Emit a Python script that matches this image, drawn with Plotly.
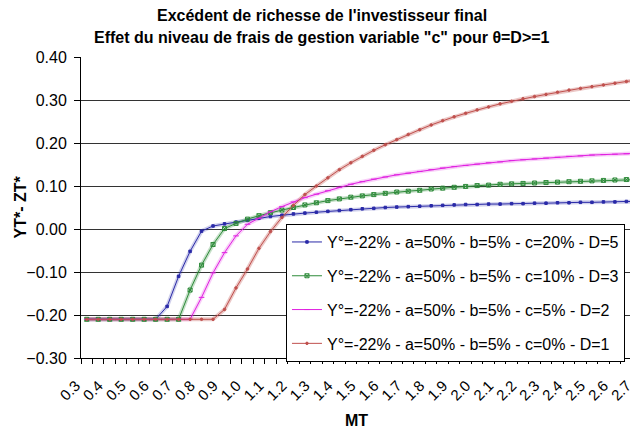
import plotly.graph_objects as go

# MT categories (one point every 0.05)
mt = [0.30, 0.35, 0.40, 0.45, 0.50, 0.55, 0.60, 0.65, 0.70, 0.75,
      0.80, 0.85, 0.90, 0.95, 1.00, 1.05, 1.10, 1.15, 1.20, 1.25,
      1.30, 1.35, 1.40, 1.45, 1.50, 1.55, 1.60, 1.65, 1.70, 1.75,
      1.80, 1.85, 1.90, 1.95, 2.00, 2.05, 2.10, 2.15, 2.20, 2.25,
      2.30, 2.35, 2.40, 2.45, 2.50, 2.55, 2.60, 2.65, 2.70]

tick_vals = [0.3, 0.4, 0.5, 0.6, 0.7, 0.8, 0.9, 1.0, 1.1, 1.2, 1.3, 1.4, 1.5,
             1.6, 1.7, 1.8, 1.9, 2.0, 2.1, 2.2, 2.3, 2.4, 2.5, 2.6, 2.7]
tick_text = ["0.3", "0.4", "0.5", "0.6", "0.7", "0.8", "0.9", "1.0", "1.1", "1.2",
             "1.3", "1.4", "1.5", "1.6", "1.7", "1.8", "1.9", "2.0", "2.1", "2.2",
             "2.3", "2.4", "2.5", "2.6", "2.7"]

# YT* - ZT*
y_c20 = [-0.21, -0.21, -0.21, -0.21, -0.21, -0.21, -0.21, -0.18, -0.11, -0.052,
         -0.005, 0.007, 0.012, 0.016, 0.020, 0.025, 0.029, 0.032, 0.035, 0.037,
         0.039, 0.041, 0.043, 0.045, 0.047, 0.048, 0.050, 0.051, 0.052, 0.053,
         0.054, 0.055, 0.056, 0.057, 0.057, 0.058, 0.058, 0.059, 0.059, 0.060,
         0.060, 0.061, 0.061, 0.062, 0.062, 0.063, 0.063, 0.064, 0.064]
y_c10 = [-0.21, -0.21, -0.21, -0.21, -0.21, -0.21, -0.21, -0.21, -0.21, -0.142,
         -0.084, -0.036, 0.001, 0.013, 0.023, 0.031, 0.038, 0.044, 0.050, 0.056,
         0.061, 0.066, 0.070, 0.074, 0.077, 0.080, 0.083, 0.086, 0.088, 0.090,
         0.093, 0.095, 0.097, 0.099, 0.101, 0.102, 0.104, 0.105, 0.106, 0.107,
         0.108, 0.109, 0.110, 0.111, 0.112, 0.113, 0.114, 0.115, 0.115]
y_c5 = [-0.21, -0.21, -0.21, -0.21, -0.21, -0.21, -0.21, -0.21, -0.21, -0.21,
        -0.159, -0.102, -0.055, -0.016, 0.011, 0.025, 0.040, 0.052, 0.063, 0.073,
        0.081, 0.089, 0.097, 0.104, 0.110, 0.116, 0.121, 0.126, 0.130, 0.134,
        0.138, 0.142, 0.145, 0.148, 0.151, 0.154, 0.156, 0.159, 0.161, 0.163,
        0.165, 0.167, 0.169, 0.170, 0.172, 0.173, 0.174, 0.175, 0.176]
y_c0 = [-0.21, -0.21, -0.21, -0.21, -0.21, -0.21, -0.21, -0.21, -0.21, -0.21,
        -0.21, -0.21, -0.187, -0.137, -0.093, -0.045, -0.006, 0.027, 0.055, 0.080,
        0.100, 0.119, 0.138, 0.154, 0.169, 0.183, 0.196, 0.208, 0.220, 0.231,
        0.242, 0.252, 0.261, 0.269, 0.277, 0.284, 0.291, 0.297, 0.303, 0.308,
        0.313, 0.318, 0.323, 0.327, 0.331, 0.335, 0.339, 0.343, 0.347]

names = ["Y°=-22% - a=50% - b=5% - c=20% - D=5",
         "Y°=-22% - a=50% - b=5% - c=10% - D=3",
         "Y°=-22% - a=50% - b=5% - c=5% - D=2",
         "Y°=-22% - a=50% - b=5% - c=0% - D=1"]

series = [y_c20, y_c10, y_c5, y_c0]
colors = ["#2a2aa8", "#2e8b3a", "#e020e0", "#c0504d"]
halos = ["rgba(42,42,168,0.22)", "rgba(46,139,58,0.28)", "rgba(224,32,224,0.22)", "rgba(192,80,77,0.32)"]
symbols = ["square", "square-x-open", "line-ew-open", "circle"]
msizes = [2.5, 4, 4, 2.5]

FONT = "Liberation Sans, Arial, sans-serif"

fig = go.Figure()

# halo (Excel-like soft shadow of the lines)
for ys, h in zip(series, halos):
    fig.add_trace(go.Scatter(x=mt, y=ys, mode="lines", line=dict(color=h, width=4),
                             showlegend=False, hoverinfo="skip"))

for i, (ys, c, name) in enumerate(zip(series, colors, names)):
    fig.add_trace(go.Scatter(
        x=mt, y=ys, name=name, mode="lines+markers", legendgroup=str(i),
        line=dict(color=c, width=1),
        marker=dict(symbol=symbols[i], size=msizes[i], color=c, line=dict(color=c, width=1)),
    ))

# two-line title
fig.add_annotation(text="<b>Excédent de richesse de l'investisseur final</b>",
                   xref="paper", yref="paper", x=0.433, y=1.138, xanchor="center", yanchor="middle",
                   showarrow=False, font=dict(family=FONT, size=16))
fig.add_annotation(text="<b>Effet du niveau de frais de gestion variable \"c\" pour θ=D>=1</b>",
                   xref="paper", yref="paper", x=0.433, y=1.064, xanchor="center", yanchor="middle",
                   showarrow=False, font=dict(family=FONT, size=16))
# axis titles
fig.add_annotation(text="<b>YT*- ZT*</b>", textangle=-90,
                   xref="paper", yref="paper", x=-0.1095, y=0.5, xanchor="center", yanchor="middle",
                   showarrow=False, font=dict(family=FONT, size=16))
fig.add_annotation(text="<b>MT</b>",
                   xref="paper", yref="paper", x=0.494, y=-0.206, xanchor="center", yanchor="middle",
                   showarrow=False, font=dict(family=FONT, size=16))

fig.update_layout(
    width=630, height=426,
    margin=dict(l=73, r=0, t=49, b=76),
    paper_bgcolor="white", plot_bgcolor="white",
    font=dict(family=FONT, size=16, color="black"),
    showlegend=True,
    legend=dict(
        x=0.368, y=0.445, xanchor="left", yanchor="top",
        bgcolor="white", bordercolor="black", borderwidth=1,
        font=dict(family=FONT, size=16), tracegroupgap=10, itemwidth=30,
    ),
)

fig.update_xaxes(
    range=[0.275, 2.7005], automargin=False,
    tickmode="array", tickvals=tick_vals, ticktext=tick_text,
    tickangle=-45, tickfont=dict(size=15),
    ticks="outside", ticklen=6, tickcolor="rgba(0,0,0,0)",
    ticklabelstandoff=6, ticklabelshift=-11,
    minor=dict(tick0=0.275, dtick=0.05, ticks="outside", ticklen=5,
               tickcolor="black", showgrid=False),
    showline=True, linecolor="black", linewidth=1,
    showgrid=False, zeroline=False,
)

fig.update_yaxes(
    range=[-0.30, 0.40], dtick=0.1, tick0=0, tickformat=".2f", automargin=False,
    ticks="outside", ticklen=6, tickcolor="black", ticklabelstandoff=4,
    showline=True, linecolor="black", linewidth=1,
    showgrid=True, gridcolor="#333333", gridwidth=1,
    zeroline=False,
)

fig.write_html("out.html")
